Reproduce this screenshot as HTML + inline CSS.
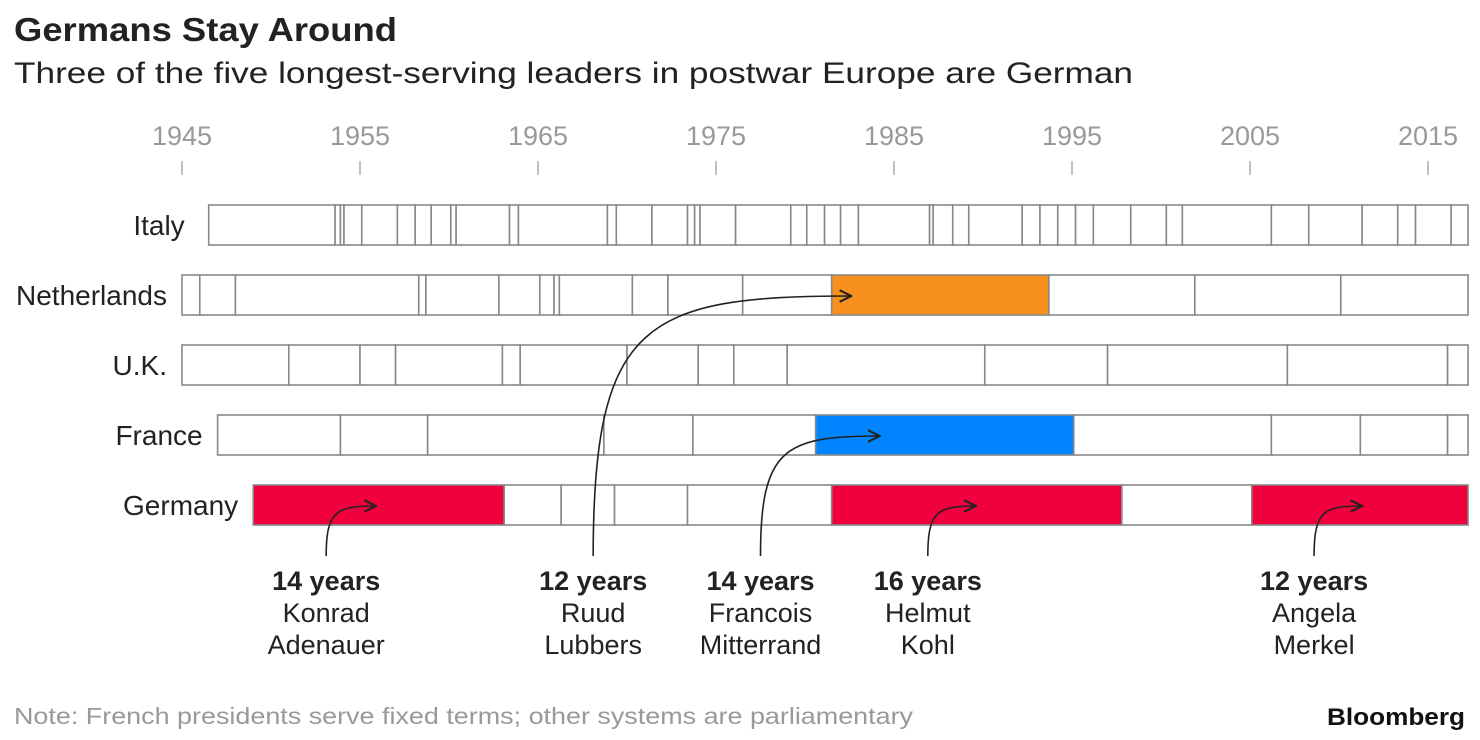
<!DOCTYPE html>
<html><head><meta charset="utf-8"><style>
body{margin:0;background:#fff;width:1480px;height:740px;overflow:hidden;font-family:"Liberation Sans",sans-serif}
svg{display:block}
</style></head><body>
<svg id="c" width="1480" height="740">
<text x="14" y="41" font-size="33" font-weight="bold" fill="#222" textLength="383" lengthAdjust="spacingAndGlyphs">Germans Stay Around</text>
<text x="14" y="83" font-size="30" fill="#222" textLength="1119" lengthAdjust="spacingAndGlyphs">Three of the five longest-serving leaders in postwar Europe are German</text>
<text x="14" y="724" font-size="23" fill="#999" textLength="899" lengthAdjust="spacingAndGlyphs">Note: French presidents serve fixed terms; other systems are parliamentary</text>
<text x="1465" y="725" font-size="24" font-weight="bold" fill="#111" text-anchor="end" textLength="138" lengthAdjust="spacingAndGlyphs">Bloomberg</text>
<g id="axis"></g><g id="rows"></g><g id="ann"></g>
<defs>
<marker id="ah2" viewBox="0 0 12 12" refX="11" refY="6" markerWidth="14" markerHeight="14" orient="auto" markerUnits="userSpaceOnUse"><path d="M1,1 L11,6 L1,11" fill="none" stroke="#222" stroke-width="1.8"/></marker></defs>
</svg>
<script>
const countries=["Italy","Netherlands","U.K.","France","Germany"];
const italy=[1946.5,1953.6,1953.9,1954.1,1955.1,1957.1,1958.1,1959.0,1960.1,1960.4,1963.4,1963.9,1968.9,1969.4,1971.4,1973.4,1973.8,1974.1,1976.1,1979.2,1980.1,1981.1,1982.0,1983.0,1987.0,1987.2,1988.3,1989.2,1992.2,1993.2,1994.2,1995.2,1996.2,1998.3,2000.3,2001.2,2006.2,2008.3,2011.3,2013.3,2014.3,2016.3,2017.25];
const netherlands=[1945.0,1946.0,1948.0,1958.3,1958.7,1962.8,1965.1,1965.9,1966.2,1970.3,1972.3,1976.5,1981.5,1993.7,2001.9,2010.1,2017.25];
const uk=[1945.0,1951.0,1955.0,1957.0,1963.0,1964.0,1970.0,1974.0,1976.0,1979.0,1990.1,1997.0,2007.1,2016.1,2017.25];
const france=[1947.0,1953.9,1958.8,1968.7,1973.7,1980.6,1995.1,2006.2,2011.2,2016.1,2017.25];
const germany=[1949.0,1963.1,1966.3,1969.3,1973.4,1981.5,1997.8,2005.1,2017.25];
const allBounds=[italy,netherlands,uk,france,germany];
const highlightRow=[1,3,4,4,4];
const highlightStart=[1981.5,1980.6,1949.0,1981.5,2005.1];
const highlightColor=["#f7901e","#0084ff","#f0003c","#f0003c","#f0003c"];
const ticks=[1945,1955,1965,1975,1985,1995,2005,2015];
const annYears=["14 years","12 years","14 years","16 years","12 years"];
const annFirst=["Konrad","Ruud","Francois","Helmut","Angela"];
const annLast=["Adenauer","Lubbers","Mitterrand","Kohl","Merkel"];
const annX=[1953.1,1968.1,1977.5,1986.9,2008.6];
const annTargetX=[1955.9,1982.6,1984.2,1989.6,2011.3];
const annTargetRow=[4,1,3,4,4];

const NS="http://www.w3.org/2000/svg";
const x=y=>182+(y-1945)*17.8;
const rowY=i=>205+i*70;
const BH=40;
function mk(t,a,p){const e=document.createElementNS(NS,t);for(const k in a)e.setAttribute(k,a[k]);p.appendChild(e);return e;}
const axis=document.getElementById('axis');
ticks.forEach(t=>{
 const tx=mk('text',{x:x(t),y:145,'font-size':27,fill:'#999','text-anchor':'middle'},axis);tx.textContent=t;
 
 
 const l=mk('line',{x1:x(t),x2:x(t),y1:161,y2:175,stroke:'#aaa','stroke-width':1.5},axis);
 
 
});
const rows=document.getElementById('rows');
allBounds.forEach((b,i)=>{
 const g=mk('g',{},rows);
 
 
 const lab=mk('text',{x:x(b[0])-(i===0?24:15),y:rowY(i)+30,'font-size':28,fill:'#222','text-anchor':'end'},g);lab.textContent=countries[i];
 
 
 for(let j=0;j<b.length-1;j++){
  let fill='#fff';
  highlightRow.forEach((r,k)=>{if(r===i&&Math.abs(highlightStart[k]-b[j])<0.01)fill=highlightColor[k];});
  const r=mk('rect',{x:x(b[j]),y:rowY(i),width:x(b[j+1])-x(b[j]),height:BH,fill:fill,stroke:'#888','stroke-width':1.6},g);
  
  
 }
});
const ann=document.getElementById('ann');
annYears.forEach((s,i)=>{
 const g=mk('g',{},ann);
 
 
 const cx=x(annX[i]);
 const t1=mk('text',{x:cx,y:590,'font-size':27,'font-weight':'bold',fill:'#222','text-anchor':'middle'},g);t1.textContent=s;
 const t2=mk('text',{x:cx,y:622,'font-size':27,fill:'#222','text-anchor':'middle'},g);t2.textContent=annFirst[i];
 const t3=mk('text',{x:cx,y:654,'font-size':27,fill:'#222','text-anchor':'middle'},g);t3.textContent=annLast[i];
 const tx=x(annTargetX[i]),ty=rowY(annTargetRow[i])+21;
 const sy=556;
 const d=`M${cx},${sy} C${cx},${ty+(sy-ty)*0.1} ${cx+(tx-cx)*0.2},${ty} ${tx},${ty}`;
 const p=mk('path',{d:d,fill:'none',stroke:'#222','stroke-width':1.6,'marker-end':'url(#ah2)'},g);
 
 
});
</script>
</body></html>
